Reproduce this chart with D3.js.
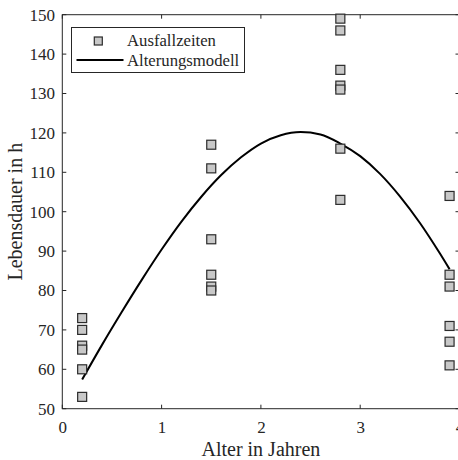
<!DOCTYPE html>
<html>
<head>
<meta charset="utf-8">
<script src="https://cdn.jsdelivr.net/npm/d3@7"></script>
<style>
  html, body { margin: 0; padding: 0; background: #fff; }
  svg { display: block; }
  text { font-family: "Liberation Serif", "Times New Roman", serif; fill: #262626; }
</style>
</head>
<body>
<svg id="chart" width="458" height="460"></svg>
<script>
// Measured failure times (hours) grouped by age (years)
const ageGroups = [0.2, 1.5, 2.8, 3.9];
const failureTimes = [
  [73, 70, 66, 65, 60, 53],
  [117, 111, 93, 84, 81, 80],
  [149, 146, 136, 132, 131, 116, 103],
  [104, 84, 81, 71, 67, 61]
];

// Ageing model curve (age in years -> lifetime in h)
const modelAge = [0.2, 0.4, 0.6, 0.8, 1.0, 1.2, 1.4, 1.6, 1.8, 2.0,
                  2.2, 2.4, 2.6, 2.8, 3.0, 3.2, 3.4, 3.6, 3.8, 3.9];
const modelLife = [57.4, 66.2, 74.6, 82.7, 90.4, 97.5, 103.8, 109.3, 113.8, 117.3,
                   119.4, 120.2, 119.6, 117.3, 114.1, 109.6, 103.9, 97.2, 89.5, 85.4];

const xTicks = [0, 1, 2, 3, 4];
const yTicks = [50, 60, 70, 80, 90, 100, 110, 120, 130, 140, 150];
const legendLabels = ["Ausfallzeiten", "Alterungsmodell"];
const xLabel = "Alter in Jahren";
const yLabel = "Lebensdauer in h";

const svg = d3.select("#chart");
const plotL = 62.3, plotR = 459.5, plotT = 14.7, plotB = 408.7;

const x = d3.scaleLinear().domain([0, 4]).range([plotL, plotR]);
const y = d3.scaleLinear().domain([50, 150]).range([plotB, plotT]);

const axisColor = "#262626";
const tickLen = 4;

// Box and inward ticks
const frame = svg.append("g").attr("stroke", axisColor).attr("stroke-width", 1).attr("fill", "none");
frame.append("rect")
  .attr("x", plotL).attr("y", plotT)
  .attr("width", plotR - plotL).attr("height", plotB - plotT);

xTicks.forEach(t => {
  frame.append("line").attr("x1", x(t)).attr("x2", x(t)).attr("y1", plotB).attr("y2", plotB - tickLen);
  frame.append("line").attr("x1", x(t)).attr("x2", x(t)).attr("y1", plotT).attr("y2", plotT + tickLen);
});
yTicks.forEach(t => {
  frame.append("line").attr("x1", plotL).attr("x2", plotL + tickLen).attr("y1", y(t)).attr("y2", y(t));
  frame.append("line").attr("x1", plotR).attr("x2", plotR - tickLen).attr("y1", y(t)).attr("y2", y(t));
});

// Tick labels via D3 axes (domain/tick lines hidden; the frame draws them)
const xAxis = svg.append("g")
  .attr("transform", `translate(0,${plotB})`)
  .call(d3.axisBottom(x).tickValues(xTicks).tickSize(0).tickPadding(0).tickFormat(d3.format("d")));
const yAxis = svg.append("g")
  .attr("transform", `translate(${plotL},0)`)
  .call(d3.axisLeft(y).tickValues(yTicks).tickSize(0).tickPadding(7.3).tickFormat(d3.format("d")));
[xAxis, yAxis].forEach(a => {
  a.select(".domain").remove();
  a.selectAll("text")
    .attr("font-family", "Liberation Serif, Times New Roman, serif")
    .attr("font-size", 17)
    .attr("fill", axisColor);
});
xAxis.selectAll("text").attr("y", 24.8).attr("dy", 0);

// Axis titles
svg.append("text")
  .attr("x", (plotL + plotR) / 2).attr("y", 456)
  .attr("text-anchor", "middle").attr("font-size", 20)
  .text(xLabel);
svg.append("text")
  .attr("transform", `translate(22,${(plotT + plotB) / 2}) rotate(-90)`)
  .attr("text-anchor", "middle").attr("font-size", 20)
  .text(yLabel);

// Model curve
const line = d3.line()
  .x((d, i) => x(modelAge[i]))
  .y(d => y(d))
  .curve(d3.curveMonotoneX);
svg.append("path")
  .datum(modelLife)
  .attr("d", line)
  .attr("fill", "none")
  .attr("stroke", "#000")
  .attr("stroke-width", 2);

// Failure time markers
const pts = [];
ageGroups.forEach((a, i) => failureTimes[i].forEach(v => pts.push({ a, v })));
const ms = 9;
svg.append("g").selectAll("rect")
  .data(pts)
  .join("rect")
  .attr("x", d => x(d.a) - ms / 2)
  .attr("y", d => y(d.v) - ms / 2)
  .attr("width", ms).attr("height", ms)
  .attr("fill", "#c8c8c8")
  .attr("stroke", "#2b2b2b")
  .attr("stroke-width", 1.2);

// Legend
const lg = svg.append("g");
lg.append("rect")
  .attr("x", 71.5).attr("y", 27.5)
  .attr("width", 173).attr("height", 45)
  .attr("fill", "#fff").attr("stroke", axisColor).attr("stroke-width", 1);
lg.append("rect")
  .attr("x", 98.3 - 4).attr("y", 41 - 4)
  .attr("width", 8).attr("height", 8)
  .attr("fill", "#c8c8c8").attr("stroke", "#2b2b2b").attr("stroke-width", 1.2);
lg.append("line")
  .attr("x1", 76.5).attr("x2", 123.5).attr("y1", 60).attr("y2", 60)
  .attr("stroke", "#000").attr("stroke-width", 2);
lg.selectAll("text.lab")
  .data(legendLabels)
  .join("text")
  .attr("class", "lab")
  .attr("x", 127).attr("y", (d, i) => i === 0 ? 46 : 65.5)
  .attr("font-size", 16.7)
  .attr("fill", "#000")
  .text(d => d);
</script>
</body>
</html>
